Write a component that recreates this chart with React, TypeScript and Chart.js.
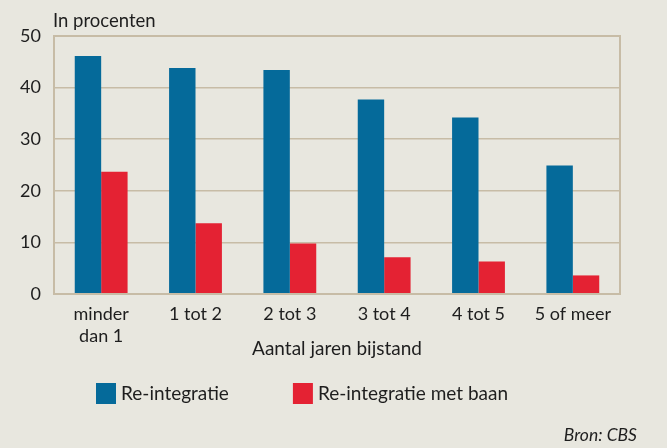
import { useEffect, useRef } from 'react';
import { Chart, registerables } from 'chart.js';

Chart.register(...registerables);

const categories: (string | string[])[] = [['minder', 'dan 1'], '1 tot 2', '2 tot 3', '3 tot 4', '4 tot 5', '5 of meer'];
const reintegratie = [46.1, 43.8, 43.4, 37.7, 34.2, 24.9];
const reintegratieMetBaan = [23.7, 13.7, 9.8, 7.1, 6.3, 3.6];
const seriesLabels = ['Re-integratie', 'Re-integratie met baan'];
const seriesColors = ['#056a9a', '#e42233'];
const yMin = 0;
const yMax = 50;
const yStep = 10;
const unitLabel = 'In procenten';
const xTitle = 'Aantal jaren bijstand';
const sourceLabel = 'Bron: CBS';

const BG = '#e8e7df';
const GRID = '#c7bca6';
const TEXT = '#1e1e1e';
const FONT = 'Lato, "Open Sans", sans-serif';

export default function App() {
  const ref = useRef<HTMLCanvasElement | null>(null);

  useEffect(() => {
    const canvas = ref.current;
    if (!canvas) return;

    const decor = {
      id: 'decor',
      beforeDraw(chart: any) {
        const { ctx, width, height } = chart;
        ctx.save();
        ctx.fillStyle = BG;
        ctx.fillRect(0, 0, width, height);
        ctx.restore();
      },
      afterDraw(chart: any) {
        const { ctx, chartArea } = chart;
        const { left, right, top, bottom } = chartArea;
        ctx.save();
        // frame
        ctx.strokeStyle = GRID;
        ctx.lineWidth = 2;
        ctx.strokeRect(left, top, right - left, bottom - top);

        // unit label
        ctx.fillStyle = TEXT;
        ctx.font = `18.5px ${FONT}`;
        ctx.textAlign = 'left';
        ctx.textBaseline = 'alphabetic';
        ctx.fillText(unitLabel, left - 1, top - 9);

        // legend
        const ly = bottom + 89;
        let lx = left + 42;
        ctx.font = `19px ${FONT}`;
        ctx.textBaseline = 'middle';
        chart.data.datasets.forEach((ds: any) => {
          ctx.fillStyle = ds.backgroundColor;
          ctx.fillRect(lx, ly, 20, 21);
          ctx.fillStyle = TEXT;
          ctx.fillText(ds.label, lx + 25, ly + 11);
          lx += 25 + ctx.measureText(ds.label).width + 64;
        });

        // source
        ctx.font = `italic 17.5px ${FONT}`;
        ctx.textAlign = 'right';
        ctx.textBaseline = 'alphabetic';
        ctx.fillText(sourceLabel, right + 17, bottom + 147);
        ctx.restore();
      },
    };

    const chart = new Chart(canvas, {
      type: 'bar',
      data: {
        labels: categories,
        datasets: [
          {
            label: seriesLabels[0],
            data: reintegratie,
            backgroundColor: seriesColors[0],
            categoryPercentage: 0.56,
            barPercentage: 1,
          },
          {
            label: seriesLabels[1],
            data: reintegratieMetBaan,
            backgroundColor: seriesColors[1],
            categoryPercentage: 0.56,
            barPercentage: 1,
          },
        ],
      },
      options: {
        responsive: false,
        animation: false,
        layout: { padding: { top: 36, right: 47, bottom: 88, left: 0 } },
        plugins: {
          legend: { display: false },
          tooltip: { enabled: false },
        },
        scales: {
          x: {
            grid: { display: false, drawTicks: false },
            border: { display: false },
            ticks: {
              color: TEXT,
              font: { family: FONT, size: 18, lineHeight: 22 / 18 },
              padding: 9,
              maxRotation: 0,
              autoSkip: false,
            },
            title: {
              display: true,
              text: xTitle,
              color: TEXT,
              font: { family: FONT, size: 19, lineHeight: 1.2 },
              padding: { top: 0, bottom: 0 },
            },
            afterFit(scale: any) {
              scale.height = 66;
            },
          },
          y: {
            min: yMin,
            max: yMax,
            grid: { color: GRID, lineWidth: 1.5, drawTicks: false },
            border: { display: false },
            ticks: {
              stepSize: yStep,
              color: TEXT,
              font: { family: FONT, size: 18 },
              padding: 13,
            },
            afterFit(scale: any) {
              scale.width = 54;
            },
          },
        },
      },
      plugins: [decor],
    });

    return () => chart.destroy();
  }, []);

  return (
    <div style={{ position: 'fixed', left: 0, top: 0, width: 667, height: 448, background: BG }}>
      <canvas ref={ref} width={667} height={448} />
    </div>
  );
}
